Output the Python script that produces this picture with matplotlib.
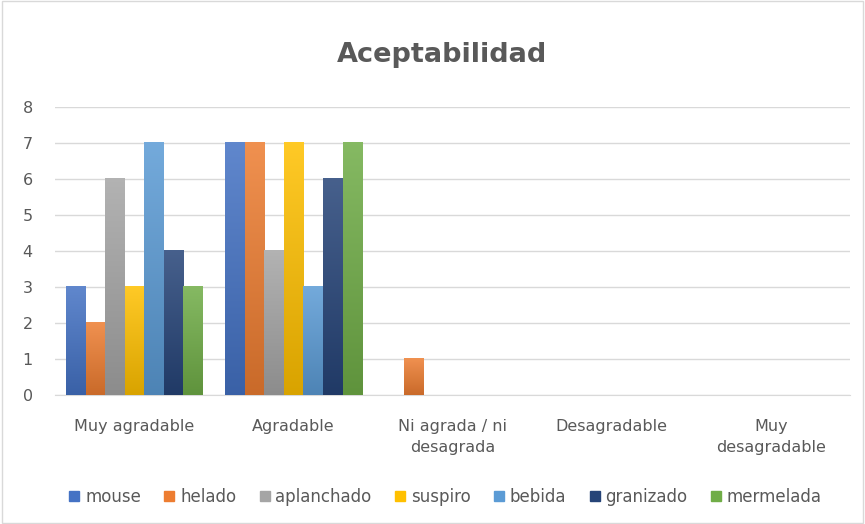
import numpy as np
import matplotlib.pyplot as plt
import matplotlib.colors as mcolors
from matplotlib.patches import Rectangle

categorias = ['Muy agradable', 'Agradable', 'Ni agrada / ni\ndesagrada',
              'Desagradable', 'Muy\ndesagradable']
series = ['mouse', 'helado', 'aplanchado', 'suspiro', 'bebida', 'granizado', 'mermelada']
mouse = [3, 7, 0, 0, 0]
helado = [2, 7, 1, 0, 0]
aplanchado = [6, 4, 0, 0, 0]
suspiro = [3, 7, 0, 0, 0]
bebida = [7, 3, 0, 0, 0]
granizado = [4, 6, 0, 0, 0]
mermelada = [3, 7, 0, 0, 0]
valores = [mouse, helado, aplanchado, suspiro, bebida, granizado, mermelada]
colores = ['#4472C4', '#ED7D31', '#A5A5A5', '#FFC000', '#5B9BD5', '#264478', '#70AD47']

gris = '#595959'
fig = plt.figure(figsize=(8.65, 5.24), dpi=100)
ax = fig.add_axes([0.0636, 0.246, 0.9194, 0.55])

x = np.arange(len(categorias))
ancho = 0.123
for i, (vals, c) in enumerate(zip(valores, colores)):
    pos = x + (i - 3) * ancho
    bars = ax.bar(pos, vals, ancho, color=c, label=series[i], zorder=2)
    rgb = np.array(mcolors.to_rgb(c))
    top = rgb + (1 - rgb) * 0.15
    bot = rgb * 0.85
    grad = np.linspace(0, 1, 100)[:, None, None]
    img = top * (1 - grad) + bot * grad
    for b, v in zip(bars, vals):
        if v <= 0:
            continue
        b.set_alpha(0)
        ax.imshow(img, extent=[b.get_x(), b.get_x() + b.get_width(), 0, v],
                  aspect='auto', origin='upper', zorder=3, interpolation='bilinear')

ax.set_xlim(-0.5, 4.5)
ax.set_ylim(0, 8)
ax.set_yticks(range(0, 9))
ax.set_xticks(x)
ax.set_xticklabels(categorias, linespacing=1.55)
ax.yaxis.grid(True, color='#d9d9d9', linewidth=1, zorder=0)
ax.set_axisbelow(True)
for s in ['top', 'right', 'left']:
    ax.spines[s].set_visible(False)
ax.spines['bottom'].set_color('#d9d9d9')
ax.tick_params(axis='both', length=0, colors=gris, labelsize=11.5)
ax.tick_params(axis='x', pad=17)
ax.tick_params(axis='y', pad=16)

fig.text(0.511, 0.895, 'Aceptabilidad', ha='center', va='center',
         fontsize=19.5, fontweight='bold', color=gris)

handles = [Rectangle((0, 0), 1, 1, color=c) for c in colores]
fig.legend(handles, series, loc='center', bbox_to_anchor=(0.515, 0.052), ncol=7,
           frameon=False, fontsize=12, labelcolor=gris, handlelength=0.6,
           handleheight=0.6, handletextpad=0.35, columnspacing=1.4)

fig.patches.append(Rectangle((0.002, 0.002), 0.996, 0.996, transform=fig.transFigure,
                             fill=False, edgecolor='#d9d9d9', linewidth=1))
fig.savefig('out.png', dpi=100)
